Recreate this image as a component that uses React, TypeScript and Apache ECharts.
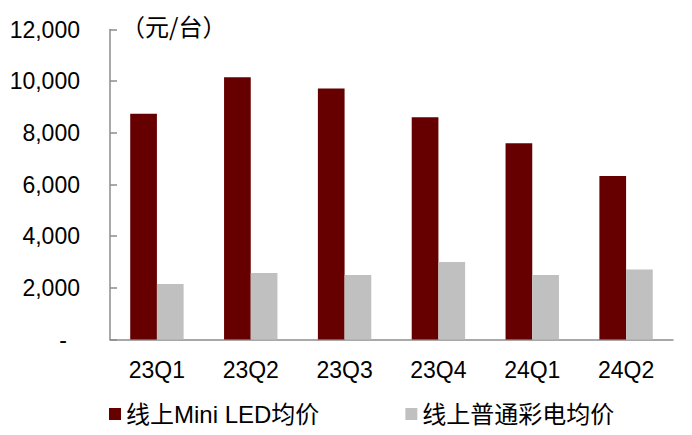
import React, { useEffect, useRef } from "react";
import * as echarts from "echarts";

const categories = ["23Q1", "23Q2", "23Q3", "23Q4", "24Q1", "24Q2"];
const miniLedPrice = [8740, 10150, 9720, 8600, 7600, 6330];
const normalTvPrice = [2150, 2570, 2500, 3000, 2500, 2710];
const seriesNames = ["线上Mini LED均价", "线上普通彩电均价"];
const unitLabel = "（元/台）";

export default function App() {
  const ref = useRef<HTMLDivElement>(null);
  useEffect(() => {
    if (!ref.current) return;
    const chart = echarts.init(ref.current, undefined, { renderer: "svg" });
    const axisColor = "#8c8c8c";
    const fontFamily = "'Liberation Sans', Arial, 'Noto Sans CJK SC', sans-serif";
    chart.setOption({
      animation: false,
      textStyle: { fontFamily },
      grid: { left: 110, right: 19, top: 29.5, bottom: 95.5, containLabel: false },
      legend: {
        left: 104,
        top: 397,
        itemWidth: 12,
        itemHeight: 12,
        itemGap: 86,
        icon: "rect",
        textStyle: { fontSize: 24, color: "#000", fontFamily, padding: [0, 0, 0, 0] },
        data: seriesNames,
      },
      xAxis: {
        type: "category",
        data: categories,
        axisLine: { lineStyle: { color: axisColor, width: 1.5 } },
        axisTick: { inside: true, length: 7, lineStyle: { color: axisColor, width: 1.5 } },
        axisLabel: { color: "#000", fontSize: 23, margin: 19, fontFamily },
      },
      yAxis: {
        type: "value",
        min: 0,
        max: 12000,
        interval: 2000,
        splitLine: { show: false },
        axisLine: { show: true, lineStyle: { color: axisColor, width: 1.5 } },
        axisTick: { show: true, inside: true, length: 7, lineStyle: { color: axisColor, width: 1.5 } },
        axisLabel: {
          color: "#000",
          fontSize: 23,
          margin: 30,
          fontFamily,
          formatter: (v: number) =>
            v === 0 ? "{z|-}" : v.toLocaleString("en-US"),
          rich: { z: { fontSize: 23, padding: [0, 13, 0, 0], color: "#000" } },
        },
      },
      graphic: [
        {
          type: "text",
          left: 121,
          top: 13,
          style: {
            text: unitLabel,
            fontSize: 24,
            fill: "#000",
            fontFamily: "'Noto Sans CJK SC', sans-serif",
          },
        },
      ],
      series: [
        {
          name: seriesNames[0],
          type: "bar",
          data: miniLedPrice,
          barWidth: 26.7,
          barGap: "0%",
          itemStyle: { color: "#660000" },
        },
        {
          name: seriesNames[1],
          type: "bar",
          data: normalTvPrice,
          barWidth: 26.7,
          barGap: "0%",
          itemStyle: { color: "#c0c0c0" },
        },
      ],
    });
    return () => chart.dispose();
  }, []);
  return (
    <div
      ref={ref}
      style={{ position: "fixed", left: 0, top: 0, width: 692, height: 435, background: "#fff" }}
    />
  );
}
